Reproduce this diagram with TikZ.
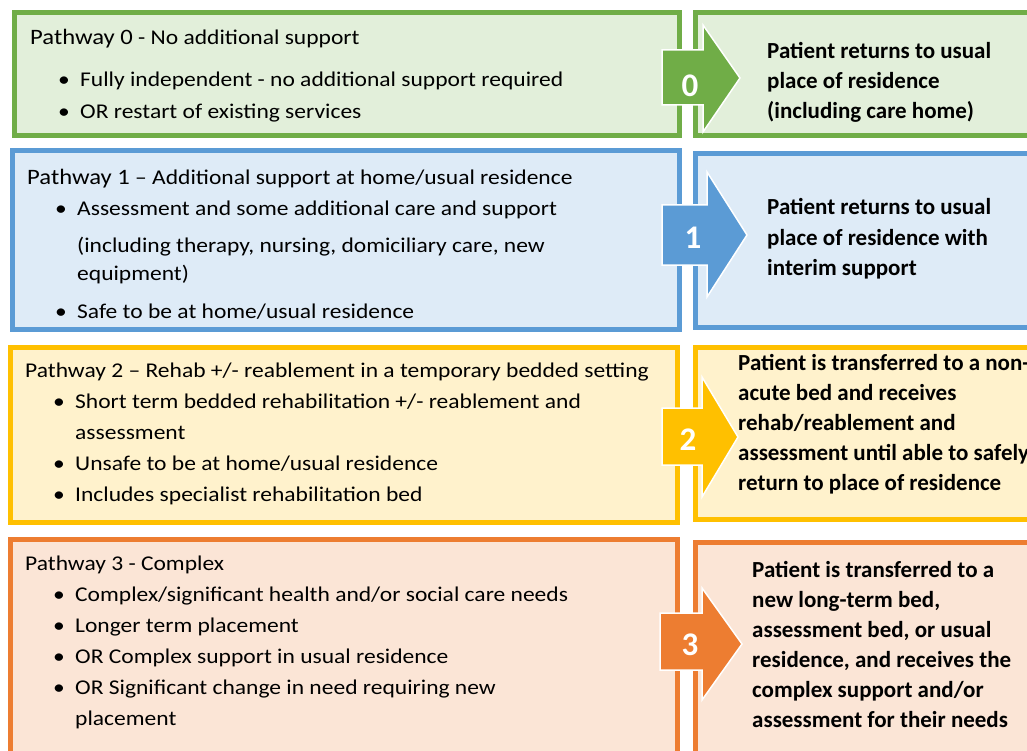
\documentclass[tikz,border=0pt]{standalone}
\usepackage{fontspec}
\setmainfont{Carlito}
\newfontfamily\widefont[FakeStretch=1.12,Ligatures=TeX]{Carlito}
\usetikzlibrary{positioning}

\definecolor{pwgreen}{HTML}{70AD47}
\definecolor{pwgreenbg}{HTML}{E2EFDA}
\definecolor{pwblue}{HTML}{5B9BD5}
\definecolor{pwbluebg}{HTML}{DEEBF7}
\definecolor{pwgold}{HTML}{FFC000}
\definecolor{pwgoldbg}{HTML}{FFF2CC}
\definecolor{pworange}{HTML}{ED7D31}
\definecolor{pworangebg}{HTML}{FBE5D6}

\newcommand{\bitem}{\hspace*{28pt}\makebox[22pt][l]{\textbullet}}
\newcommand{\bcont}{\hspace*{50pt}}

\begin{document}
\begin{tikzpicture}[x=1pt, y=-1pt,
    box/.style={draw=#1, fill=#1bg, line width=5pt, inner sep=0pt},
    lefttext/.style={anchor=base west, align=left, inner sep=0pt, font=\widefont\fontsize{21}{31}\selectfont},
    righttext/.style={anchor=base west, align=left, inner sep=0pt, font=\bfseries\fontsize{23}{30}\selectfont},
    stage/.style={fill=#1, draw=white, line width=1.5pt},
    num/.style={text=white, inner sep=0pt, font=\bfseries\fontsize{33}{33}\selectfont}]
    \useasboundingbox (0,0) rectangle (1027,751);
    \clip (0,0) rectangle (1027,751);

    \node[box=pwgreen,  minimum width=665pt, minimum height=123pt] (p0) at (347,74)     {};
    \node[box=pwgreen,  minimum width=400pt, minimum height=123pt] (r0) at (895.5,74)   {};
    \node[box=pwblue,   minimum width=667pt, minimum height=179pt] (p1) at (346,240)    {};
    \node[box=pwblue,   minimum width=400pt, minimum height=174pt] (r1) at (895.5,240.5) {};
    \node[box=pwgold,   minimum width=667pt, minimum height=175pt] (p2) at (344,435)    {};
    \node[box=pwgold,   minimum width=400pt, minimum height=172pt] (r2) at (895.5,433.5) {};
    \node[box=pworange, minimum width=667pt, minimum height=261pt] (p3) at (344,670)    {};
    \node[box=pworange, minimum width=400pt, minimum height=258pt] (r3) at (895.5,671.5) {};

    \node[lefttext] (t0) at (30,119) {{\fontsize{22}{31}\selectfont Pathway 0} - No additional support\\[11pt]
        \bitem Fully independent - no additional support required\\[1pt]
        \bitem OR restart of existing services};
    \node[lefttext] (t1) at (27,318) {{\fontsize{22}{31}\selectfont Pathway 1} – Additional support at home/usual residence\\
        \bitem Assessment and some additional care and support\\[6pt]
        \bcont (including therapy, nursing, domiciliary care, new\\[-3pt]
        \bcont equipment)\\[7pt]
        \bitem Safe to be at home/usual residence};
    \node[lefttext] (t2) at (25,501) {Pathway 2 – Rehab +/- reablement in a temporary bedded setting\\
        \bitem Short term bedded rehabilitation +/- reablement and\\
        \bcont assessment\\
        \bitem Unsafe to be at home/usual residence\\
        \bitem Includes specialist rehabilitation bed};
    \node[lefttext] (t3) at (25,725) {Pathway 3 - Complex\\
        \bitem Complex/significant health and/or social care needs\\
        \bitem Longer term placement\\
        \bitem OR Complex support in usual residence\\
        \bitem OR Significant change in need requiring new\\
        \bcont placement};

    \node[righttext] (o0) at (767,119) {Patient returns to usual\\ place of residence\\ (including care home)};
    \node[righttext] (o1) at (767,275) {Patient returns to usual\\ place of residence with\\ interim support};
    \node[righttext] (o2) at (738,490) {Patient is transferred to a non-\\ acute bed and receives\\ rehab/reablement and\\ assessment until able to safely\\ return to place of residence};
    \node[righttext] (o3) at (752,727) {Patient is transferred to a\\ new long-term bed,\\ assessment bed, or usual\\ residence, and receives the\\ complex support and/or\\ assessment for their needs};

    \draw[stage=pwgreen]  (662,50)  -- (703,50)  -- (703,25)  -- (740,78)  -- (703,132) -- (703,105) -- (662,105) -- cycle;
    \draw[stage=pwblue]   (662,205) -- (707,205) -- (707,172) -- (747,235) -- (707,297) -- (707,265) -- (662,265) -- cycle;
    \draw[stage=pwgold]   (662,408) -- (702,408) -- (702,377) -- (738,437) -- (702,497) -- (702,465) -- (662,465) -- cycle;
    \draw[stage=pworange] (660,613) -- (702,613) -- (702,588) -- (742,644) -- (702,700) -- (702,670) -- (660,670) -- cycle;

    \node[num] (n0) at (690,86)  {0};
    \node[num] (n1) at (693,238) {1};
    \node[num] (n2) at (688,440) {2};
    \node[num] (n3) at (690,645) {3};
\end{tikzpicture}
\end{document}
